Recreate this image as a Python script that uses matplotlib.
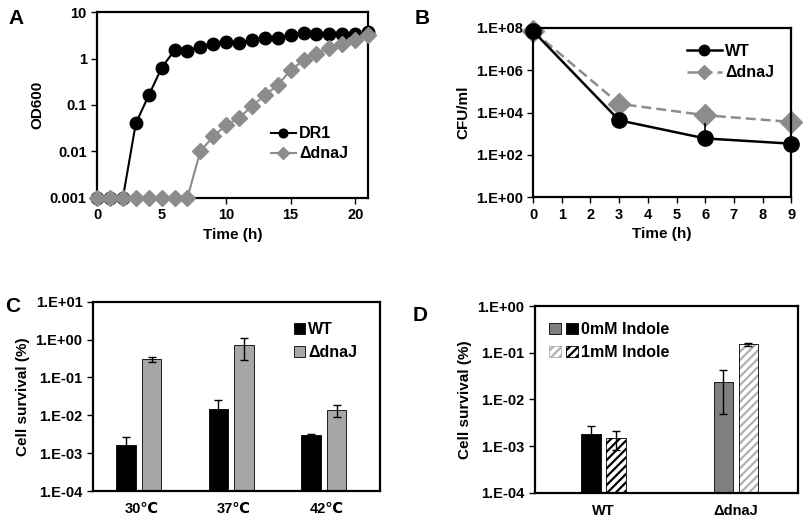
import numpy as np
import matplotlib.pyplot as plt
from matplotlib.patches import Patch
from matplotlib.lines import Line2D
from matplotlib.legend_handler import HandlerTuple

plt.rcParams['font.family'] = ['Liberation Sans', 'DejaVu Sans']
plt.rcParams['font.weight'] = 'bold'
plt.rcParams['axes.labelweight'] = 'bold'
plt.rcParams['font.size'] = 10.5
plt.rcParams['hatch.linewidth'] = 1.6

# ---- data ----
# A: growth curve
hours_a = list(range(22))
od_dr1 = [0.001, 0.001, 0.001, 0.04, 0.16, 0.63, 1.5, 1.47, 1.8, 2.1, 2.27, 2.15,
          2.55, 2.77, 2.7, 3.2, 3.6, 3.4, 3.4, 3.4, 3.4, 3.8]
od_dnaj = [0.001, 0.001, 0.001, 0.001, 0.001, 0.001, 0.001, 0.001, 0.01, 0.021, 0.037,
           0.052, 0.095, 0.16, 0.27, 0.56, 0.92, 1.28, 1.7, 2.1, 2.47, 3.16]

# B: survival over time
hours_b = [0, 3, 6, 9]
cfu_wt = [7e7, 4.3e3, 6e2, 3.4e2]
cfu_wt_lo = [0, 0, 3e2, 3.39e2]
cfu_wt_hi = [0, 0, 2.5e3, 0]
cfu_dnaj = [7e7, 2.6e4, 7.5e3, 3.6e3]
cfu_dnaj_lo = [0, 0, 3e3, 0]
cfu_dnaj_hi = [0, 0, 0, 0]

# C: temperature survival
temps = ['30\u2103', '37\u2103', '42\u2103']
surv_wt = [1.64e-3, 1.44e-2, 3.0e-3]
surv_wt_err = [1.1e-3, 1.1e-2, 0.3e-3]
surv_dnaj = [0.30, 0.70, 0.0138]
surv_dnaj_err = [0.04, 0.42, 0.0048]

# D: indole
strains = ['WT', '\u0394dnaJ']
ind0 = [1.78e-3, 0.0235]
ind0_err = [0.9e-3, 0.0185]
ind1 = [1.48e-3, 0.151]
ind1_err = [0.65e-3, 0.01]

fig = plt.figure(figsize=(8.09, 5.26), dpi=100)

def style_axes(ax):
    for s in ax.spines.values():
        s.set_linewidth(1.6)
    ax.tick_params(direction='out', width=1.0, length=4, labelsize=10.5)
    ax.tick_params(which='minor', length=0)
    for lab in ax.get_xticklabels() + ax.get_yticklabels():
        lab.set_fontweight('bold')

# ---- A ----
axA = fig.add_axes([0.120, 0.624, 0.335, 0.353])
axA.plot(hours_a, od_dr1, '-o', color='black', lw=1.5, ms=9, label='DR1', zorder=2)
axA.plot(hours_a, od_dnaj, '-D', color='#8c8c8c', lw=1.5, ms=8.5, label='\u0394dnaJ', zorder=3)
axA.set_yscale('log')
axA.set_ylim(0.001, 10)
axA.set_xlim(0, 21)
axA.set_xticks([0, 5, 10, 15, 20])
axA.set_yticks([0.001, 0.01, 0.1, 1, 10])
axA.set_yticklabels(['0.001', '0.01', '0.1', '1', '10'])
axA.set_xlabel('Time (h)', fontsize=11)
axA.set_ylabel('OD600', fontsize=11)
for p in axA.lines:
    p.set_clip_on(False)
style_axes(axA)
axA.legend(loc='lower right', bbox_to_anchor=(0.98, 0.12), frameon=False, fontsize=11.5,
           handlelength=1.6, handletextpad=0.2, labelspacing=0.3, markerscale=0.7)

# ---- B ----
axB = fig.add_axes([0.659, 0.625, 0.319, 0.322])
axB.errorbar(hours_b, cfu_wt, yerr=[cfu_wt_lo, cfu_wt_hi], fmt='-o', color='black',
             lw=1.8, ms=11, elinewidth=1.2, capsize=0, zorder=3, clip_on=False)
axB.errorbar(hours_b, cfu_dnaj, yerr=[cfu_dnaj_lo, cfu_dnaj_hi], fmt='--D', color='#8c8c8c',
             lw=1.8, ms=11, elinewidth=1.2, capsize=0, zorder=2,
             dashes=(4, 2), clip_on=False)
axB.set_yscale('log')
axB.set_ylim(1, 1e8)
axB.set_xlim(0, 9)
axB.set_xticks(range(10))
axB.set_yticks([1, 1e2, 1e4, 1e6, 1e8])
axB.set_yticklabels(['1.E+00', '1.E+02', '1.E+04', '1.E+06', '1.E+08'])
axB.set_xlabel('Time (h)', fontsize=11)
axB.set_ylabel('CFU/ml', fontsize=11)
style_axes(axB)
legB = [Line2D([], [], color='black', lw=1.8, marker='o', ms=7.5),
        Line2D([], [], color='#8c8c8c', lw=1.8, ls='--', dashes=(4, 2), marker='D', ms=7.5)]
axB.legend(legB, ['WT', '\u0394dnaJ'], loc='upper right', bbox_to_anchor=(0.99, 0.99),
           frameon=False, fontsize=11.5, handlelength=2.2, handletextpad=0.2, labelspacing=0.4)

# ---- C ----
axC = fig.add_axes([0.115, 0.0665, 0.355, 0.360])
xc = np.arange(len(temps))
axC.bar(xc - 0.139, surv_wt, 0.21, color='black', edgecolor='black', lw=0.6,
        yerr=surv_wt_err, capsize=3, error_kw=dict(elinewidth=1, capthick=1), label='WT')
axC.bar(xc + 0.139, surv_dnaj, 0.21, color='#a6a6a6', edgecolor='black', lw=0.6,
        yerr=surv_dnaj_err, capsize=3, error_kw=dict(elinewidth=1, capthick=1), label='\u0394dnaJ')
axC.set_yscale('log')
axC.set_ylim(1e-4, 10)
axC.set_xlim(-0.495, 2.61)
axC.set_xticks(xc + 0.03)
axC.set_xticklabels(temps)
axC.set_yticks([1e-4, 1e-3, 1e-2, 1e-1, 1, 10])
axC.set_yticklabels(['1.E-04', '1.E-03', '1.E-02', '1.E-01', '1.E+00', '1.E+01'])
axC.set_ylabel('Cell survival (%)', fontsize=11)
style_axes(axC)
axC.tick_params(axis='x', length=0, pad=8)
axC.legend(loc='upper right', bbox_to_anchor=(0.97, 0.97), frameon=False, fontsize=11.5,
           handlelength=0.7, handleheight=0.7, handletextpad=0.2, labelspacing=0.5)

# ---- D ----
axD = fig.add_axes([0.661, 0.063, 0.325, 0.355])
xd = np.arange(len(strains))
c0 = ['black', '#7f7f7f']
h1 = ['black', '#b0b0b0']
axD.bar(xd - 0.094, ind0, 0.146, color=c0, edgecolor='black', lw=0.6,
        yerr=ind0_err, capsize=3, error_kw=dict(elinewidth=1, capthick=1))
axD.bar(xd + 0.094, ind1, 0.146, color='white', edgecolor=h1, lw=0, hatch='////')
axD.bar(xd + 0.094, ind1, 0.146, fill=False, edgecolor='black', lw=0.6,
        yerr=ind1_err, capsize=3, error_kw=dict(elinewidth=1, capthick=1))
axD.set_yscale('log')
axD.set_ylim(1e-4, 1)
axD.set_xlim(-0.518, 1.466)
axD.set_xticks(xd)
axD.set_xticklabels(strains)
axD.set_yticks([1e-4, 1e-3, 1e-2, 1e-1, 1])
axD.set_yticklabels(['1.E-04', '1.E-03', '1.E-02', '1.E-01', '1.E+00'])
axD.set_ylabel('Cell survival (%)', fontsize=11)
style_axes(axD)
axD.tick_params(axis='x', length=0, pad=8)
leg0 = (Patch(facecolor='#7f7f7f', edgecolor='black', lw=0.6),
        Patch(facecolor='black', edgecolor='black', lw=0.6))
leg1 = (Patch(facecolor='white', edgecolor='#b0b0b0', hatch='////', lw=0.6),
        Patch(facecolor='white', edgecolor='black', hatch='////', lw=0.6))
axD.legend([leg0, leg1], ['0mM Indole', '1mM Indole'],
           handler_map={tuple: HandlerTuple(ndivide=None, pad=0.3)},
           loc='upper left', bbox_to_anchor=(0.0, 0.99), frameon=False, fontsize=11.5,
           handlelength=1.8, handleheight=0.7, handletextpad=0.2, labelspacing=0.5)

# panel letters
for x, y, t in [(0.010, 0.965, 'A'), (0.512, 0.965, 'B'), (0.006, 0.418, 'C'), (0.510, 0.400, 'D')]:
    fig.text(x, y, t, fontsize=15, fontweight='bold', va='center')

fig.savefig('out.png', dpi=100)
